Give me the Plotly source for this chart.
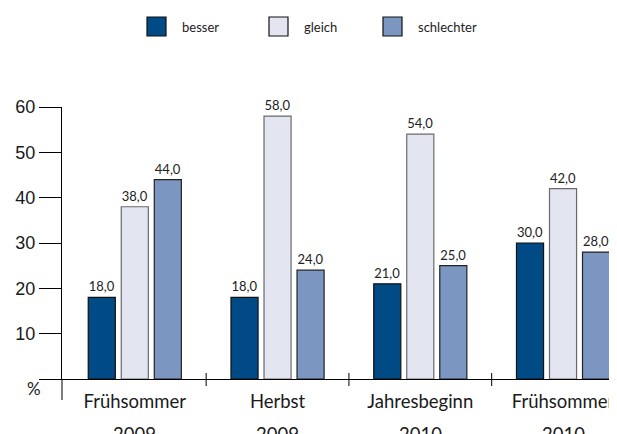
import plotly.graph_objects as go

# ---- data ----
seasons = ["Frühsommer", "Herbst", "Jahresbeginn", "Frühsommer"]
years = ["2009", "2009", "2010", "2010"]
categories = ["Frühsommer 2009", "Herbst 2009", "Jahresbeginn 2010", "Frühsommer 2010"]
series_names = ["besser", "gleich", "schlechter"]
besser = [18.0, 18.0, 21.0, 30.0]
gleich = [38.0, 58.0, 54.0, 42.0]
schlechter = [44.0, 24.0, 25.0, 28.0]
y_ticks = [0, 10, 20, 30, 40, 50, 60]
y_ticktext = ["", "10", "20", "30", "40", "50", "60"]

# ---- styles ----
OFF = 8  # page body margin: figure starts at (8, 8) in the window
W, H = 617 - OFF, 434 - OFF
L, R, T, B = 54, 5, 99, 55
PW, PH = W - L - R, H - T - B
fills = ["#004a86", "#e3e6f0", "#7b96c0"]
outlines = ["#111111", "#6a6a6a", "#222222"]
LABEL_FONT = "Lato"


def px_x(x):
    """window pixel x -> paper fraction"""
    return (x - OFF - L) / PW


def px_y(y):
    """window pixel y -> paper fraction"""
    return (H - B - (y - OFF)) / PH


fig = go.Figure()
for name, vals, fc, lc in zip(series_names, [besser, gleich, schlechter], fills, outlines):
    fig.add_trace(go.Bar(
        x=categories, y=vals, name=name,
        marker=dict(color=fc, line=dict(color=lc, width=1.2)),
        texttemplate="%{y:.1f}", textposition="outside",
        textfont=dict(family=LABEL_FONT, size=13, color="#222222"),
        cliponaxis=False, showlegend=False,
    ))

shapes = []
annotations = []

# y-axis extension below zero
shapes.append(dict(type="line", xref="paper", yref="paper", x0=0, x1=0,
                   y0=0, y1=px_y(400), line=dict(color="black", width=1)))
# separator ticks between groups
for i in range(len(categories) - 1):
    shapes.append(dict(type="line", xref="x", yref="paper", x0=i + 0.5, x1=i + 0.5,
                       y0=px_y(373), y1=px_y(386), line=dict(color="black", width=1)))

# year lines of category labels
for cat, yr in zip(categories, years):
    annotations.append(dict(x=cat, xref="x", yref="paper", y=px_y(421), yanchor="top",
                            text=yr, showarrow=False,
                            font=dict(family=LABEL_FONT, size=18.5, color="#1a1a1a")))

# percent sign
annotations.append(dict(x=px_x(25), y=px_y(401), xref="paper", yref="paper",
                        text="%", showarrow=False,
                        font=dict(family=LABEL_FONT, size=17, color="#1a1a1a")))

# custom legend
legend_boxes = [147, 269, 383]
legend_texts = [180, 302, 416]
for name, fc, lc, bx, tx in zip(series_names, fills, outlines, legend_boxes, legend_texts):
    shapes.append(dict(type="rect", xref="paper", yref="paper",
                       x0=px_x(bx), x1=px_x(bx + 19), y0=px_y(17), y1=px_y(36),
                       fillcolor=fc, line=dict(color="#111111", width=1.2)))
    annotations.append(dict(x=px_x(tx), y=px_y(26.5), xref="paper", yref="paper",
                            xanchor="left", yanchor="middle", text=name, showarrow=False,
                            font=dict(family=LABEL_FONT, size=13, color="#222222")))

fig.update_layout(
    width=W, height=H,
    margin=dict(l=L, r=R, t=T, b=B, pad=0, autoexpand=False),
    paper_bgcolor="white", plot_bgcolor="white",
    barmode="group", bargap=0.306, bargroupgap=0.18,
    separators=",.",
    shapes=shapes, annotations=annotations,
    showlegend=False,
    xaxis=dict(
        type="category", range=[-0.51, 3.343], automargin=False,
        tickmode="array", tickvals=categories, ticktext=seasons,
        ticks="", showgrid=False, zeroline=False,
        showline=True, linecolor="black", linewidth=1,
        tickfont=dict(family=LABEL_FONT, size=18.5, color="#1a1a1a"),
        ticklabelstandoff=6,
    ),
    yaxis=dict(
        range=[0, 60], automargin=False,
        tickmode="array", tickvals=y_ticks, ticktext=y_ticktext,
        ticks="outside", ticklen=22, tickcolor="black", tickwidth=1,
        showgrid=False, zeroline=False,
        showline=True, linecolor="black", linewidth=1,
        tickfont=dict(family="Liberation Sans", size=18, color="#1a1a1a"),
    ),
)

fig.write_html("out.html")
